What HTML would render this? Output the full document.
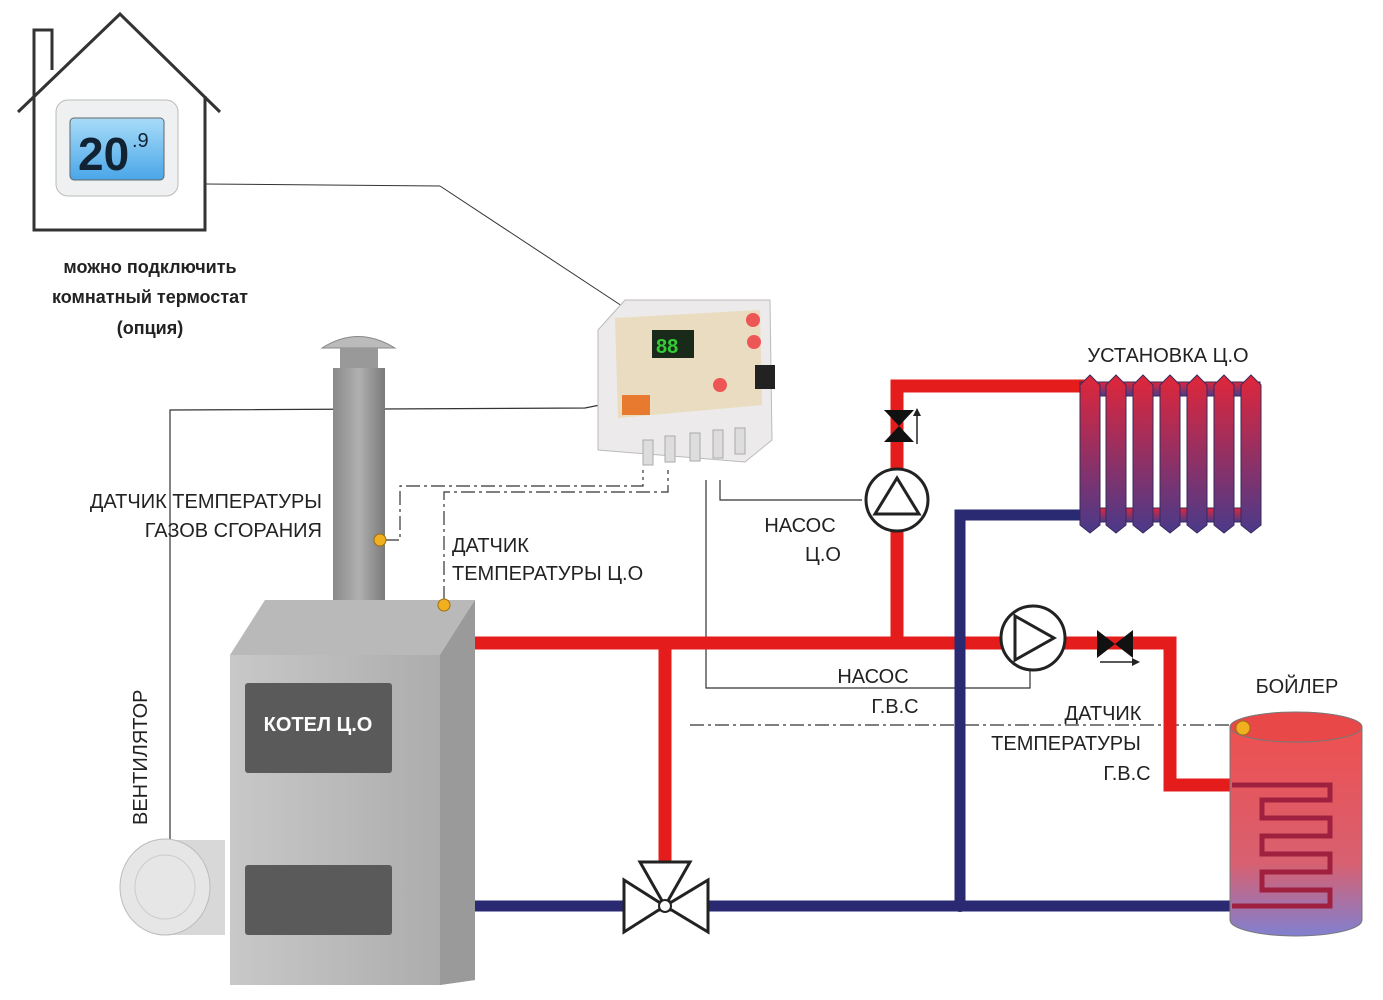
<!DOCTYPE html>
<html><head><meta charset="utf-8"><style>
html,body{margin:0;padding:0;background:#fff;}
svg{display:block;}
text{font-family:"Liberation Sans","DejaVu Sans",sans-serif;}
</style></head><body>
<svg width="1383" height="1000" viewBox="0 0 1383 1000" xmlns="http://www.w3.org/2000/svg">
<defs>
<linearGradient id="rad" x1="0" y1="0" x2="0" y2="1"><stop offset="0" stop-color="#e0263a"/><stop offset="1" stop-color="#4a3a8a"/></linearGradient>
<linearGradient id="tank" x1="0" y1="0" x2="0" y2="1"><stop offset="0" stop-color="#ee5050"/><stop offset="0.65" stop-color="#d86070"/><stop offset="1" stop-color="#8080d0"/></linearGradient>
<linearGradient id="chim" x1="0" y1="0" x2="1" y2="0"><stop offset="0" stop-color="#8a8a8a"/><stop offset="0.5" stop-color="#b0b0b0"/><stop offset="1" stop-color="#7a7a7a"/></linearGradient>
<linearGradient id="boil" x1="0" y1="0" x2="1" y2="0"><stop offset="0" stop-color="#c8c8c8"/><stop offset="1" stop-color="#a8a8a8"/></linearGradient>
<linearGradient id="scr" x1="0" y1="0" x2="0" y2="1"><stop offset="0" stop-color="#a8dcf8"/><stop offset="1" stop-color="#4aa6e8"/></linearGradient>
</defs>

<!-- house -->
<polyline points="18,112 120,14 220,112" fill="none" stroke="#333" stroke-width="3"/>
<polyline points="34,96 34,30 52,30 52,70" fill="none" stroke="#333" stroke-width="3"/>
<polyline points="34,96 34,230 205,230 205,96" fill="none" stroke="#333" stroke-width="3"/>
<rect x="56" y="100" width="122" height="96" rx="12" fill="#eef0f2" stroke="#bbb"/>
<rect x="70" y="118" width="94" height="62" rx="4" fill="url(#scr)" stroke="#666"/>
<text x="78" y="170" font-size="46" fill="#123" font-weight="bold">20</text>
<text x="132" y="147" font-size="20" fill="#123">.9</text>
<line x1="205" y1="184" x2="440" y2="186" stroke="#333" stroke-width="1"/>
<line x1="440" y1="186" x2="622" y2="306" stroke="#333" stroke-width="1"/>
<text x="150" y="273" font-size="18" font-weight="bold" text-anchor="middle" fill="#222">можно подключить</text>
<text x="150" y="303" font-size="18" font-weight="bold" text-anchor="middle" fill="#222">комнатный термостат</text>
<text x="150" y="334" font-size="18" font-weight="bold" text-anchor="middle" fill="#222">(опция)</text>

<!-- wiring -->
<g fill="none" stroke="#333" stroke-width="1.2">
<polyline points="170,840 170,410 585,408 600,405"/>
<polyline points="720,480 720,500 862,500"/>
<polyline points="706,480 706,688 1030,688 1030,670"/>
</g>
<g fill="none" stroke="#333" stroke-width="1.2" stroke-dasharray="14,4,3,4">
<polyline points="385,540 400,540 400,486 643,486 643,470"/>
<polyline points="444,600 444,492 668,492 668,470"/>
<line x1="690" y1="725" x2="1240" y2="725"/>
</g>

<!-- pipes -->
<g stroke-linecap="butt" fill="none">
<path d="M475,643 H1170 V785 H1240" stroke="#e41c1c" stroke-width="13"/>
<path d="M665,643 V880" stroke="#e41c1c" stroke-width="13"/>
<path d="M897,643 V386 H1085" stroke="#e41c1c" stroke-width="13"/>
<path d="M475,906 H1240" stroke="#2a2a72" stroke-width="11"/>
<path d="M960,906 V515 H1085" stroke="#2a2a72" stroke-width="11"/>
</g>
<circle cx="960" cy="906" r="6" fill="#2a2a72"/>

<!-- radiator -->
<g fill="url(#rad)" stroke="#3a2a5a" stroke-width="1">
<rect x="1080" y="382" width="180" height="14"/>
<rect x="1080" y="508" width="180" height="14"/>
<path d="M1080,385 l10,-10 l10,10 v140 l-10,8 l-10,-8z"/>
<path d="M1106,385 l10,-10 l10,10 v140 l-10,8 l-10,-8z"/>
<path d="M1133,385 l10,-10 l10,10 v140 l-10,8 l-10,-8z"/>
<path d="M1160,385 l10,-10 l10,10 v140 l-10,8 l-10,-8z"/>
<path d="M1187,385 l10,-10 l10,10 v140 l-10,8 l-10,-8z"/>
<path d="M1214,385 l10,-10 l10,10 v140 l-10,8 l-10,-8z"/>
<path d="M1241,385 l10,-10 l10,10 v140 l-10,8 l-10,-8z"/>
</g>
<text x="1168" y="362" font-size="20" text-anchor="middle" fill="#222">УСТАНОВКА Ц.О</text>

<!-- tank -->
<path d="M1230,727 V920 A66,16 0 0 0 1362,920 V727 Z" fill="url(#tank)" stroke="#777"/>
<ellipse cx="1296" cy="727" rx="66" ry="15" fill="#e84848" stroke="#777"/>
<path d="M1232,785 H1330 V800 H1262 V818 H1330 V836 H1262 V854 H1330 V872 H1262 V890 H1330 V906 H1232" fill="none" stroke="#a02040" stroke-width="5"/>
<circle cx="1243" cy="728" r="7" fill="#f0b020" stroke="#a07010"/>
<text x="1297" y="693" font-size="20" text-anchor="middle" fill="#222">БОЙЛЕР</text>

<!-- pumps -->
<circle cx="897" cy="500" r="31" fill="#fff" stroke="#222" stroke-width="3"/>
<polygon points="875,514 919,514 897,478" fill="none" stroke="#222" stroke-width="3"/>
<circle cx="1033" cy="638" r="32" fill="#fff" stroke="#222" stroke-width="3"/>
<polygon points="1015,616 1015,660 1054,638" fill="none" stroke="#222" stroke-width="3"/>
<!-- check valves -->
<polygon points="884,410 914,410 899,426 914,442 884,442 899,426" fill="#111"/>
<line x1="917" y1="412" x2="917" y2="444" stroke="#222" stroke-width="1.5"/>
<polygon points="913,416 917,408 921,416" fill="#222"/>
<polygon points="1097,630 1097,658 1115,644 1133,630 1133,658 1115,644" fill="#111"/>
<line x1="1100" y1="662" x2="1138" y2="662" stroke="#222" stroke-width="1.5"/>
<polygon points="1132,658 1140,662 1132,666" fill="#222"/>
<!-- 3-way valve -->
<g fill="#fff" stroke="#222" stroke-width="3">
<polygon points="624,880 624,932 665,906"/>
<polygon points="708,880 708,932 665,906"/>
<polygon points="640,862 690,862 665,906"/>
</g>
<circle cx="665" cy="906" r="6" fill="#fff" stroke="#222" stroke-width="2"/>

<!-- chimney & boiler -->
<rect x="333" y="368" width="52" height="252" fill="url(#chim)"/>
<path d="M322,348 Q358,325 395,348 Z" fill="#bbb" stroke="#888"/>
<rect x="340" y="348" width="38" height="20" fill="#999"/>
<polygon points="230,655 265,600 475,600 475,980 440,985 230,985" fill="url(#boil)"/>
<polygon points="230,655 265,600 475,600 440,655" fill="#b9b9b9"/>
<polygon points="440,655 475,600 475,980 440,985" fill="#9a9a9a"/>
<rect x="245" y="683" width="147" height="90" rx="3" fill="#5a5a5a"/>
<text x="318" y="731" font-size="20" font-weight="bold" text-anchor="middle" fill="#fff">КОТЕЛ Ц.О</text>
<rect x="245" y="865" width="147" height="70" rx="3" fill="#5a5a5a"/>
<circle cx="380" cy="540" r="6" fill="#f0b020" stroke="#a07010"/>
<circle cx="444" cy="605" r="6" fill="#f0b020" stroke="#a07010"/>
<!-- fan -->
<rect x="165" y="840" width="60" height="95" fill="#d8d8d8"/>
<ellipse cx="165" cy="887" rx="45" ry="48" fill="#e6e6e6" stroke="#bbb"/>
<ellipse cx="165" cy="887" rx="30" ry="32" fill="none" stroke="#ccc"/>

<!-- controller -->
<polygon points="598,330 625,300 770,300 772,440 745,462 598,450" fill="#eceaea" stroke="#bbb"/>
<polygon points="615,318 760,310 762,405 618,418" fill="#e9dcc0"/>
<rect x="652" y="330" width="42" height="28" fill="#1a2a1a"/>
<text x="656" y="353" font-size="20" fill="#3c3" font-weight="bold">88</text>
<circle cx="753" cy="320" r="7" fill="#e55"/><circle cx="754" cy="342" r="7" fill="#e55"/>
<circle cx="720" cy="385" r="7" fill="#e55"/>
<rect x="755" y="365" width="20" height="24" fill="#222"/>
<rect x="622" y="395" width="28" height="20" fill="#e87a30"/>
<g fill="#ddd" stroke="#aaa"><rect x="643" y="440" width="10" height="25"/><rect x="665" y="436" width="10" height="26"/><rect x="690" y="433" width="10" height="28"/><rect x="713" y="430" width="10" height="28"/><rect x="735" y="428" width="10" height="26"/></g>

<!-- labels -->
<g font-size="20" fill="#222">
<text x="322" y="508" text-anchor="end">ДАТЧИК ТЕМПЕРАТУРЫ</text>
<text x="322" y="537" text-anchor="end">ГАЗОВ СГОРАНИЯ</text>
<text x="452" y="552">ДАТЧИК</text>
<text x="452" y="580">ТЕМПЕРАТУРЫ Ц.О</text>
<text x="800" y="532" text-anchor="middle">НАСОС</text>
<text x="823" y="561" text-anchor="middle">Ц.О</text>
<text x="873" y="683" text-anchor="middle">НАСОС</text>
<text x="895" y="713" text-anchor="middle">Г.В.С</text>
<text x="1103" y="720" text-anchor="middle">ДАТЧИК</text>
<text x="1066" y="750" text-anchor="middle">ТЕМПЕРАТУРЫ</text>
<text x="1127" y="780" text-anchor="middle">Г.В.С</text>
<text transform="translate(147,825) rotate(-90)">ВЕНТИЛЯТОР</text>
</g>
</svg>
</body></html>
